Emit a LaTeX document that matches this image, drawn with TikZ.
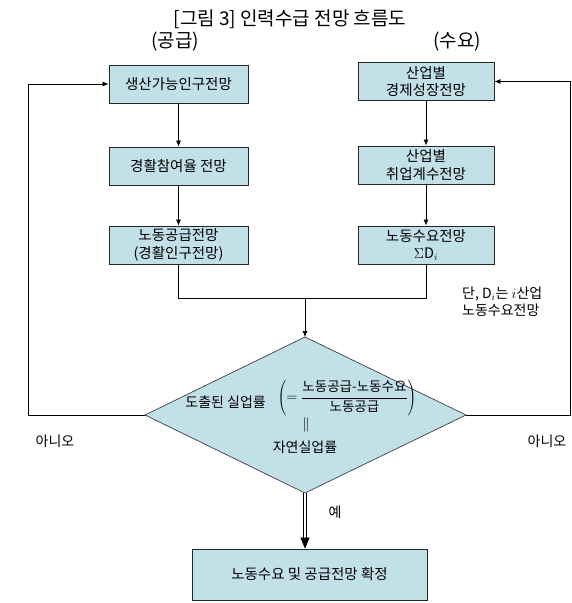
\documentclass[tikz,border=0pt]{standalone}
\usepackage{fontspec}
\setmainfont{Noto Sans CJK KR}
\usetikzlibrary{arrows.meta,calc}
\definecolor{boxblue}{RGB}{194,224,232}
\begin{document}
\begin{tikzpicture}[x=1pt,y=-1pt,
  box/.style={draw=black!85, fill=boxblue, line width=0.8pt, minimum width=139pt, minimum height=38pt, inner sep=0pt, align=center, font=\fontsize{14.5}{17.5}\selectfont},
  conn/.style={line width=0.7pt, -{Latex[length=6pt,width=5pt]}},
  plain/.style={line width=0.7pt},
  lbl/.style={font=\fontsize{14}{17}\selectfont, inner sep=0pt},
  head/.style={font=\fontsize{19}{21}\selectfont, inner sep=0pt}]
\useasboundingbox (0,0) rectangle (571,603);
% titles
\node[head] (title) at (290,19) {[그림 3] 인력수급 전망 흐름도};
\node[head] (sup) at (175,42) {(공급)};
\node[head] (dem) at (457,42) {(수요)};
% supply column
\node[box] (s1) at (178.5,84) {생산가능인구전망};
\node[box] (s2) at (178.5,166) {경활참여율 전망};
\node[box] (s3) at (178.5,245) {노동공급전망\\(경활인구전망)};
% demand column
\node[box, minimum width=136pt] (d1) at (426,81.5) {산업별\\경제성장전망};
\node[box, minimum width=136pt] (d2) at (426,165) {산업별\\취업계수전망};
\node[box, minimum width=136pt] (d3) at (426,245) {노동수요전망\\$\Sigma\mathrm{D}_i$};
% diamond
\coordinate (dT) at (305,337);
\coordinate (dL) at (145,415);
\coordinate (dR) at (466,415);
\coordinate (dB) at (305,493);
\draw[fill=boxblue, draw=black!75, line width=0.7pt] (dT) -- (dR) -- (dB) -- (dL) -- cycle;
\node[lbl, anchor=east] (q1) at (266,402) {도출된 실업률};
\node[font=\fontsize{13.5}{16}\selectfont, inner sep=0pt] (frac) at (347,398) {$\displaystyle\left(=\frac{\hbox{노동공급-노동수요}}{\hbox{노동공급}}\right)$};
\node[lbl] (eq) at (306,425) {$\|$};
\node[lbl] (nat) at (305,447) {자연실업률};
% final box
\node[box, minimum width=235pt, minimum height=51pt] (fin) at (309.5,574.5) {노동수요 및 공급전망 확정};
% connectors
\draw[conn] (s1) -- (s2);
\draw[conn] (s2) -- (s3);
\draw[conn] (d1) -- (d2);
\draw[conn] (d2) -- (d3);
\coordinate (m) at (305,298);
\draw[plain] (s3.south) |- (m);
\draw[plain] (d3.south) |- (m);
\draw[conn] (m) -- (dT);
\coordinate (lc) at (28,415);
\coordinate (rc) at (570,415);
\draw[conn] (dL) -- (lc) |- (s1.west);
\draw[conn] (dR) -- (rc) |- (d1.east);
\coordinate (ya) at ($(dB |- fin.north)+(0,-11)$);
\draw[double, double distance=2pt, line width=0.7pt] (dB) -- (ya);
\draw[line width=0.7pt, -{Triangle[length=11pt,width=9pt]}] (ya) -- (dB |- fin.north);
% labels
\node[lbl] (no1) at (55,441) {아니오};
\node[lbl] (no2) at (547,441) {아니오};
\node[lbl] (yes) at (335,512) {예};
\node[lbl, anchor=north west, align=left] (note) at (462,287) {단, D$_i$는 $i$산업\\노동수요전망};
\end{tikzpicture}
\end{document}
